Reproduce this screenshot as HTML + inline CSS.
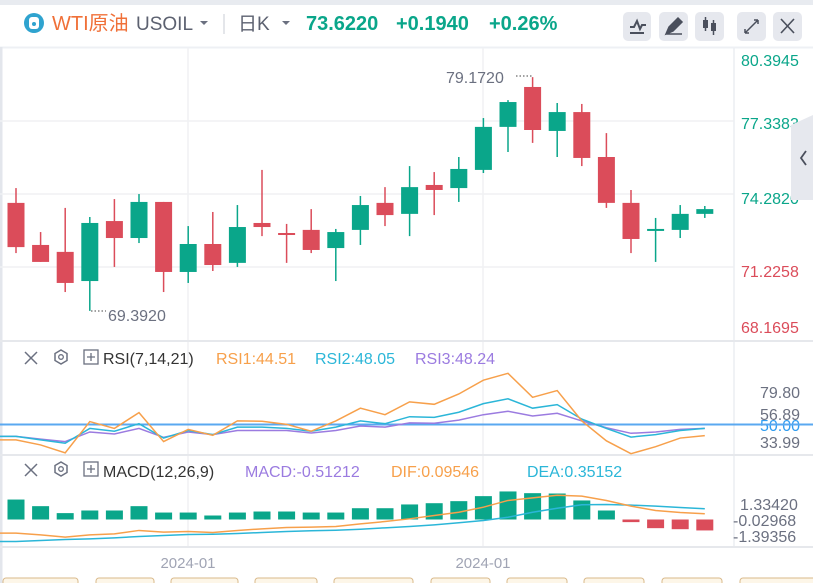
<!DOCTYPE html>
<html><head><meta charset="utf-8">
<style>
body{margin:0;width:813px;height:583px;overflow:hidden;background:#fff;font-family:"Liberation Sans","Noto Sans CJK SC",sans-serif;}
svg{display:block}
</style></head>
<body>
<svg id="chart" width="813" height="583">
<rect x="0" y="0" width="813" height="583" fill="#fff"/>
<rect x="0" y="0" width="813" height="5" fill="#e8ebf0"/>
<line x1="0" y1="47.5" x2="813" y2="47.5" stroke="#eef0f4" stroke-width="2"/>
<line x1="1" y1="47" x2="1" y2="583" stroke="#e3e6ec" stroke-width="3"/>
<!-- header -->
<g>
<circle cx="34" cy="23" r="10" fill="#2fa3cf"/>
<rect x="29" y="17" width="10" height="12" rx="3" fill="#fff"/><circle cx="34" cy="24" r="2" fill="#2fa3cf"/>
<text x="52" y="30" font-size="20" fill="#f07038">WTI原油</text>
<text x="136" y="30" font-size="19" fill="#5c6170">USOIL</text>
<path d="M200 21 l4 4 l4 -4z" fill="#6b7080"/>
<line x1="224" y1="14" x2="224" y2="34" stroke="#c8ccd4"/>
<text x="238" y="30" font-size="19" fill="#5c6170">日K</text>
<path d="M282 21 l4 4 l4 -4z" fill="#6b7080"/>
<text x="306" y="30" font-size="20" font-weight="bold" fill="#0aa68a">73.6220</text>
<text x="396" y="30" font-size="20" font-weight="bold" fill="#0aa68a">+0.1940</text>
<text x="489" y="30" font-size="20" font-weight="bold" fill="#0aa68a">+0.26%</text>
<g><rect x="623" y="12" width="28" height="29" rx="5" fill="#e6e8ee"/><path d="M630 27 l4 0 l3 -6 l3 8 l2 -4 l4 0 M630 33 h14" stroke="#4a4f5c" stroke-width="2" fill="none"/></g>
<g><rect x="659" y="12" width="29" height="29" rx="5" fill="#e6e8ee"/><path d="M666 34 l3 -7 l9 -9 l4 4 l-9 9z M666 34 h16" fill="#4a4f5c" stroke="#4a4f5c" stroke-width="1.5"/></g>
<g><rect x="695" y="12" width="29" height="29" rx="5" fill="#e6e8ee"/><rect x="703" y="20" width="5" height="8" fill="#4a4f5c"/><line x1="705.5" y1="17" x2="705.5" y2="31" stroke="#4a4f5c" stroke-width="1.5"/><rect x="711" y="23" width="5" height="8" fill="#4a4f5c"/><line x1="713.5" y1="20" x2="713.5" y2="35" stroke="#4a4f5c" stroke-width="1.5"/></g>
<g><rect x="737" y="12" width="29" height="29" rx="5" fill="#e6e8ee"/><path d="M745 33 l13 -13 M745 33 v-4 M745 33 h4 M758 20 h-4 M758 20 v4" stroke="#4a4f5c" stroke-width="1.5" fill="none"/></g>
<g><rect x="773" y="12" width="29" height="29" rx="5" fill="#e6e8ee"/><path d="M781 19 l13 14 M794 19 l-13 14" stroke="#4a4f5c" stroke-width="1.6"/></g>
</g>
<!-- grid -->
<g stroke="#f0f1f4" stroke-width="1.5">
<line x1="0" y1="121" x2="734" y2="121"/><line x1="0" y1="194" x2="734" y2="194"/><line x1="0" y1="267" x2="734" y2="267"/>
<line x1="188" y1="48" x2="188" y2="547"/><line x1="483" y1="48" x2="483" y2="547"/>
<line x1="734" y1="48" x2="734" y2="547" stroke="#eceef2"/>
<line x1="0" y1="341" x2="813" y2="341" stroke="#e6e8ec" stroke-width="2"/>
<line x1="0" y1="455" x2="813" y2="455" stroke="#e6e8ec" stroke-width="2"/>
<line x1="0" y1="547" x2="813" y2="547" stroke="#e6e8ec" stroke-width="2"/>
</g>
<g font-size="16">
<text x="741" y="66" fill="#0aa68a">80.3945</text>
<text x="741" y="129" fill="#0aa68a">77.3383</text>
<text x="741" y="204" fill="#0aa68a">74.2820</text>
<text x="741" y="277" fill="#db4c5a">71.2258</text>
<text x="741" y="333" fill="#db4c5a">68.1695</text>
</g>
<g><path d="M791 125 l22 -10 v85 h-22z" fill="#e6e8ee"/><path d="M806 151 l-5 7 l5 7" stroke="#4a4f5c" stroke-width="1.8" fill="none"/></g>
<g id="candles"></g>
<g font-size="16" fill="#6b7080">
<text x="446" y="83">79.1720</text>
<line x1="516" y1="76" x2="533" y2="76" stroke="#444" stroke-dasharray="1.5 2"/>
<text x="108" y="321">69.3920</text>
<line x1="91" y1="311" x2="106" y2="311" stroke="#444" stroke-dasharray="1.5 2"/>
</g>
<!-- RSI pane -->
<g font-size="16">
<path d="M25 352 l12 12 M37 352 l-12 12" stroke="#6b7080" stroke-width="1.5"/>
<path d="M61 350 l6 3.5 v7 l-6 3.5 l-6 -3.5 v-7z" fill="none" stroke="#6b7080" stroke-width="1.5"/><circle cx="61" cy="357" r="2.3" fill="none" stroke="#6b7080" stroke-width="1.3"/>
<rect x="84" y="350" width="14" height="14" fill="none" stroke="#6b7080" stroke-width="1.3"/><path d="M87 357 h8 M91 353 v8" stroke="#6b7080" stroke-width="1.3"/>
<text x="103" y="364" fill="#333">RSI(7,14,21)</text>
<text x="216" y="364" fill="#f7a04b">RSI1:44.51</text>
<text x="315" y="364" fill="#2bb6d8">RSI2:48.05</text>
<text x="415" y="364" fill="#9b7be0">RSI3:48.24</text>
</g>
<g font-size="16" fill="#6b7080">
<text x="760" y="398">79.80</text><text x="760" y="420">56.89</text><text x="760" y="448">33.99</text>
<text x="760" y="431" fill="#2f9cf0">50.00</text>
</g>
<line x1="0" y1="424.5" x2="813" y2="424.5" stroke="#5aa8f0" stroke-width="2"/>
<g id="rsi"></g>
<!-- MACD pane -->
<g font-size="16">
<path d="M25 464 l12 12 M37 464 l-12 12" stroke="#6b7080" stroke-width="1.5"/>
<path d="M61 462 l6 3.5 v7 l-6 3.5 l-6 -3.5 v-7z" fill="none" stroke="#6b7080" stroke-width="1.5"/><circle cx="61" cy="469" r="2.3" fill="none" stroke="#6b7080" stroke-width="1.3"/>
<rect x="84" y="462" width="14" height="14" fill="none" stroke="#6b7080" stroke-width="1.3"/><path d="M87 469 h8 M91 465 v8" stroke="#6b7080" stroke-width="1.3"/>
<text x="103" y="477" fill="#333">MACD(12,26,9)</text>
<text x="245" y="477" fill="#9b7be0">MACD:-0.51212</text>
<text x="391" y="477" fill="#f7a04b">DIF:0.09546</text>
<text x="527" y="477" fill="#2bb6d8">DEA:0.35152</text>
</g>
<g font-size="16" fill="#6b7080">
<text x="740" y="510">1.33420</text><text x="733" y="526">-0.02968</text><text x="733" y="542">-1.39356</text>
</g>
<g id="macd"></g>
<g font-size="15" fill="#a0a4b4">
<text x="188" y="568" text-anchor="middle">2024-01</text><text x="483" y="568" text-anchor="middle">2024-01</text>
</g>
<g fill="#fdf6e8" stroke="#d9b98a">
<rect x="3" y="578" width="75" height="12" rx="3"/><rect x="96" y="578" width="58" height="12" rx="3"/><rect x="171" y="578" width="67" height="12" rx="3"/><rect x="255" y="578" width="62" height="12" rx="3"/><rect x="334" y="578" width="79" height="12" rx="3"/><rect x="431" y="578" width="59" height="12" rx="3"/><rect x="507" y="578" width="60" height="12" rx="3"/><rect x="584" y="578" width="60" height="12" rx="3"/><rect x="662" y="578" width="60" height="12" rx="3"/><rect x="740" y="578" width="80" height="12" rx="3"/>
</g>
</svg>
<script>
const opens=[73.91,72.15,71.86,70.64,73.15,72.44,73.95,71.02,72.19,71.40,73.07,72.65,72.78,72.02,72.78,73.91,73.45,74.66,74.53,75.29,77.09,78.76,76.92,77.71,75.83,73.91,72.78,72.78,73.45];
const highs=[74.53,72.69,73.70,73.32,74.07,74.28,73.95,72.94,73.53,73.82,75.29,73.03,73.65,72.82,74.20,74.57,75.45,75.20,75.83,77.46,78.21,79.172,78.09,78.05,76.83,74.45,73.28,73.82,73.78];
const lows=[71.81,71.44,70.18,69.392,71.23,72.23,70.18,70.56,71.06,71.23,72.52,71.40,71.81,70.64,72.15,72.94,72.52,73.40,73.95,75.16,76.04,76.42,75.83,75.45,73.70,71.81,71.44,72.44,73.28];
const closes=[72.06,71.44,70.56,73.07,72.44,73.95,71.02,72.19,71.31,72.90,72.90,72.57,71.94,72.69,73.82,73.40,74.57,74.45,75.33,77.09,78.13,76.96,77.71,75.79,73.91,72.40,72.82,73.45,73.65];
const rsi1=[36.6,32.0,24.8,53.1,46.9,61.2,35.0,46.0,40.7,53.7,53.4,50.6,44.4,53.7,65.2,59.3,70.9,68.7,78.0,90.5,96.7,75.0,81.1,53.7,35.7,24.1,30.4,38.2,40.4];
const rsi2=[39.7,36.6,33.5,46.9,44.4,51.2,38.2,45.0,41.3,48.1,48.1,46.9,44.4,48.1,53.7,51.2,57.5,56.9,61.5,69.3,73.7,65.2,68.4,55.3,46.9,39.1,41.3,45.0,46.9];
const rsi3=[39.7,37.2,35.0,43.7,41.9,46.9,38.8,43.7,41.3,45.0,45.0,45.0,42.8,45.0,49.1,48.1,51.9,51.6,54.4,59.3,62.4,58.1,60.6,53.7,47.5,42.5,43.7,46.0,46.9];
const macdHist=[1.75,1.17,0.56,0.79,0.79,1.17,0.61,0.61,0.35,0.61,0.70,0.70,0.61,0.61,0.99,0.99,1.32,1.43,1.61,2.05,2.46,2.31,2.28,1.67,0.79,-0.23,-0.76,-0.85,-0.96];
const dif=[-1.20,-1.35,-1.55,-1.35,-1.26,-0.96,-1.11,-1.05,-1.14,-0.96,-0.82,-0.70,-0.67,-0.61,-0.38,-0.18,0.06,0.35,0.64,1.08,1.67,1.90,2.13,2.05,1.67,1.17,0.79,0.61,0.50];
const dea=[-1.93,-1.84,-1.75,-1.70,-1.61,-1.49,-1.40,-1.32,-1.29,-1.23,-1.14,-1.05,-0.99,-0.94,-0.85,-0.73,-0.61,-0.47,-0.29,-0.09,0.20,0.64,0.99,1.29,1.32,1.26,1.17,1.05,0.94];

const NS='http://www.w3.org/2000/svg';
const xAt=i=>16+24.6*i;
const yPrice=p=>194-(p-74.282)*23.9;
const yRsi=v=>425-(v-50)*1.107;
const yMacd=v=>519.5-v*11.4;
const GREEN='#0aa68a',RED='#db4c5a';
function mk(tag,attrs,parent){const e=document.createElementNS(NS,tag);for(const k in attrs)e.setAttribute(k,attrs[k]);parent.appendChild(e);return e;}
const cg=document.getElementById('candles');
for(let i=0;i<opens.length;i++){
  const up=closes[i]>=opens[i],col=up?GREEN:RED,x=xAt(i);
  const g=mk('g',{},cg);
  
  
  mk('line',{x1:x,x2:x,y1:yPrice(highs[i]),y2:yPrice(lows[i]),stroke:col,'stroke-width':1.5},g);
  const t=yPrice(Math.max(opens[i],closes[i])),b=yPrice(Math.min(opens[i],closes[i]));
  mk('rect',{x:x-8.5,y:t,width:17,height:Math.max(b-t,2),fill:col},g);
}
function line(arr,fy,col,parent,name,startX){
  let d='M'+startX+' '+fy(arr[0]);
  arr.forEach((v,i)=>{d+=' L'+xAt(i)+' '+fy(v);});
  const p=mk('path',{d:d,fill:'none',stroke:col,'stroke-width':1.5},parent);
  
  
}
const rg=document.getElementById('rsi');
line(rsi3,yRsi,'#9b7be0',rg,'rsi3-line',0);
line(rsi2,yRsi,'#2bb6d8',rg,'rsi2-line',0);
line(rsi1,yRsi,'#f7a04b',rg,'rsi1-line',0);
const mg=document.getElementById('macd');
for(let i=0;i<macdHist.length;i++){
  const v=macdHist[i],y0=yMacd(0),y1=yMacd(v);
  const r=mk('rect',{x:xAt(i)-8.5,y:Math.min(y0,y1),width:17,height:Math.abs(y1-y0),fill:v>=0?GREEN:RED},mg);
  
  
}
line(dea,yMacd,'#2bb6d8',mg,'dea-line',0);
line(dif,yMacd,'#f7a04b',mg,'dif-line',0);
</script>
</body></html>
